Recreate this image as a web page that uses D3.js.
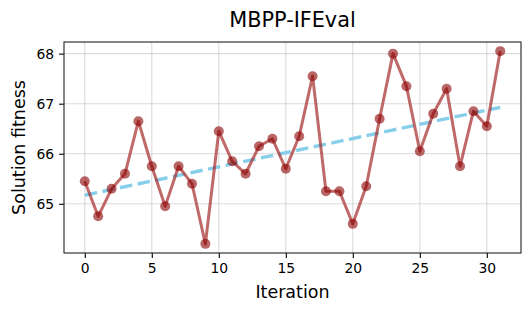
<!DOCTYPE html>
<html><head><meta charset="utf-8">
<script src="https://cdn.jsdelivr.net/npm/d3@7"></script>
<style>body{margin:0;background:#fff}svg{display:block}text{font-family:"DejaVu Sans",sans-serif;fill:#000}</style>
</head><body>
<script>
const iterations = d3.range(0, 32);
const fitness = [65.45,64.75,65.3,65.6,66.65,65.75,64.95,65.75,65.4,64.2,66.45,65.85,65.6,66.15,66.3,65.7,66.35,67.55,65.25,65.25,64.6,65.35,66.7,68.0,67.35,66.05,66.8,67.3,65.75,66.85,66.55,68.05];
const xTicks = [0,5,10,15,20,25,30];
const yTicks = [65,66,67,68];
const title = "MBPP-IFEval", xLabel = "Iteration", yLabel = "Solution fitness";

const W=532,H=313, L=64, R=521, T=42, B=253;
const svg=d3.select("body").append("svg").attr("width",W).attr("height",H);
const x=d3.scaleLinear().domain([-1.55,32.55]).range([L,R]);
const y=d3.scaleLinear().domain([64.0175,68.2325]).range([B,T]);

// grid
svg.append("g").selectAll("line").data(xTicks).join("line")
 .attr("x1",d=>x(d)).attr("x2",d=>x(d)).attr("y1",T).attr("y2",B)
 .attr("stroke","#b0b0b0").attr("stroke-opacity",0.45).attr("stroke-width",1.1);
svg.append("g").selectAll("line").data(yTicks).join("line")
 .attr("y1",d=>y(d)).attr("y2",d=>y(d)).attr("x1",L).attr("x2",R)
 .attr("stroke","#b0b0b0").attr("stroke-opacity",0.45).attr("stroke-width",1.1);

// trend (least squares)
const n=iterations.length, mx=d3.mean(iterations), my=d3.mean(fitness);
const slope=d3.sum(iterations,(d,i)=>(d-mx)*(fitness[i]-my))/d3.sum(iterations,d=>(d-mx)*(d-mx));
const icpt=my-slope*mx;
const x0=iterations[0], x1=iterations[n-1];
svg.append("line").attr("x1",x(x0)).attr("y1",y(icpt+slope*x0)).attr("x2",x(x1)).attr("y2",y(icpt+slope*x1))
 .attr("stroke","#87ceeb").attr("stroke-width",3.4).attr("stroke-dasharray","12.5,5.5");

// series
const line=d3.line().x((d,i)=>x(iterations[i])).y(d=>y(d));
svg.append("path").datum(fitness).attr("d",line).attr("fill","none")
 .attr("stroke","#a52a2a").attr("stroke-opacity",0.7).attr("stroke-width",3).attr("stroke-linejoin","round");
svg.append("g").selectAll("circle").data(fitness).join("circle")
 .attr("cx",(d,i)=>x(iterations[i])).attr("cy",d=>y(d)).attr("r",5)
 .attr("fill","#8b0000").attr("fill-opacity",0.6);

// axes
const xa=svg.append("g").attr("transform",`translate(0,${B})`).call(d3.axisBottom(x).tickValues(xTicks).tickFormat(d3.format("d")).tickSize(4.9).tickPadding(4.9));
const ya=svg.append("g").attr("transform",`translate(${L},0)`).call(d3.axisLeft(y).tickValues(yTicks).tickFormat(d3.format("d")).tickSize(4.9).tickPadding(4.9));
[xa,ya].forEach(a=>{a.select(".domain").remove();a.selectAll("text").attr("font-size",13.9).attr("font-family","DejaVu Sans").attr("fill","#000");a.selectAll("line").attr("stroke","#000").attr("stroke-width",1.1);});
svg.append("rect").attr("x",L).attr("y",T).attr("width",R-L).attr("height",B-T).attr("fill","none").attr("stroke","#222").attr("stroke-width",1.1);

svg.append("text").attr("x",(L+R)/2).attr("y",27).attr("text-anchor","middle").attr("font-size",20.8).text(title);
svg.append("text").attr("x",(L+R)/2).attr("y",298).attr("text-anchor","middle").attr("font-size",17.5).text(xLabel);
svg.append("text").attr("transform",`translate(25,${(T+B)/2}) rotate(-90)`).attr("text-anchor","middle").attr("font-size",17.5).text(yLabel);
</script></body></html>
